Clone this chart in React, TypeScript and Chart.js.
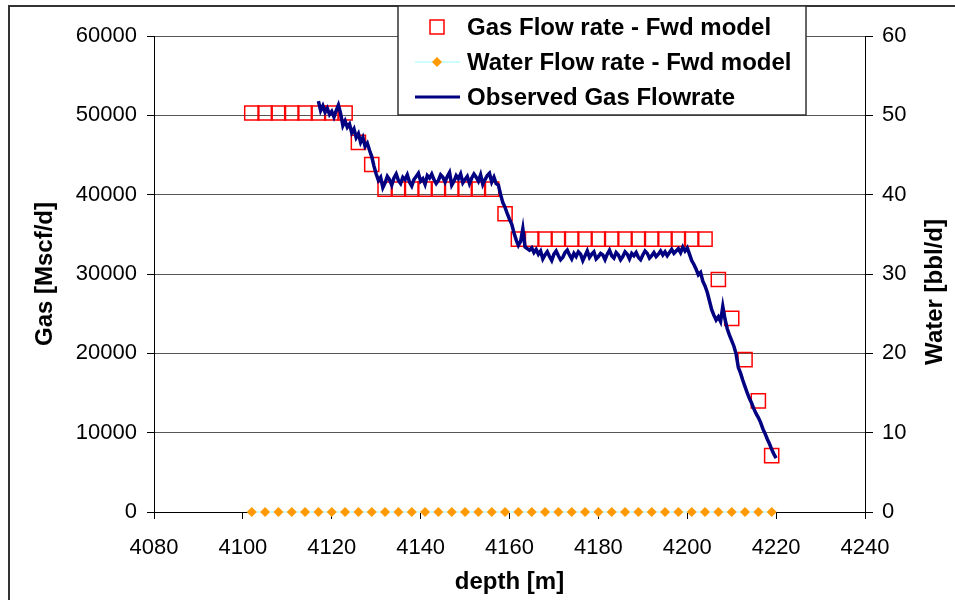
import React, { useEffect, useRef } from 'react';
import { Chart, registerables } from 'chart.js';

Chart.register(...registerables);

const FONT = "'Liberation Sans', Arial, Helvetica, sans-serif";

// ---- Data ----
const xTicks = [4080, 4100, 4120, 4140, 4160, 4180, 4200, 4220, 4240];
const xTitle = 'depth [m]';
const yTitle = 'Gas [Mscf/d]';
const y2Title = 'Water [bbl/d]';
const legendLabels = ['Gas Flow rate - Fwd model', 'Water Flow rate - Fwd model', 'Observed Gas Flowrate'];

const modelDepth = [
  4102, 4105, 4108, 4111, 4114, 4117, 4120, 4123, 4126, 4129,
  4132, 4135, 4138, 4141, 4144, 4147, 4150, 4153, 4156, 4159,
  4162, 4165, 4168, 4171, 4174, 4177, 4180, 4183, 4186, 4189,
  4192, 4195, 4198, 4201, 4204, 4207, 4210, 4213, 4216, 4219,
];

const gasModel = [
  50300, 50300, 50300, 50300, 50300, 50300, 50300, 50300, 46600, 43800,
  40700, 40700, 40700, 40700, 40700, 40700, 40700, 40700, 40700, 37600,
  34400, 34400, 34400, 34400, 34400, 34400, 34400, 34400, 34400, 34400,
  34400, 34400, 34400, 34400, 34400, 29300, 24400, 19200, 14000, 7100,
];

const waterModel = [
  0, 0, 0, 0, 0, 0, 0, 0, 0, 0,
  0, 0, 0, 0, 0, 0, 0, 0, 0, 0,
  0, 0, 0, 0, 0, 0, 0, 0, 0, 0,
  0, 0, 0, 0, 0, 0, 0, 0, 0, 0,
];

const obsDepth = [
  4117, 4117.5, 4118, 4118.5, 4119, 4119.5, 4120, 4120.5, 4121, 4121.5,
  4122, 4122.5, 4123, 4123.5, 4124, 4124.5, 4125, 4125.5, 4126, 4126.5,
  4127, 4127.5, 4128, 4128.5, 4129, 4129.5, 4130, 4130.5, 4131, 4131.5,
  4132, 4132.5, 4133, 4133.5, 4134, 4134.5, 4135, 4135.5, 4136, 4136.5,
  4137, 4137.5, 4138, 4138.5, 4139, 4139.5, 4140, 4140.5, 4141, 4141.5,
  4142, 4142.5, 4143, 4143.5, 4144, 4144.5, 4145, 4145.5, 4146, 4146.5,
  4147, 4147.5, 4148, 4148.5, 4149, 4149.5, 4150, 4150.5, 4151, 4151.5,
  4152, 4152.5, 4153, 4153.5, 4154, 4154.5, 4155, 4155.5, 4156, 4156.5,
  4157, 4157.5, 4158, 4158.5, 4159, 4159.5, 4160, 4160.5, 4161, 4161.5,
  4162, 4162.5, 4163, 4163.5, 4164, 4164.5, 4165, 4165.5, 4166, 4166.5,
  4167, 4167.5, 4168, 4168.5, 4169, 4169.5, 4170, 4170.5, 4171, 4171.5,
  4172, 4172.5, 4173, 4173.5, 4174, 4174.5, 4175, 4175.5, 4176, 4176.5,
  4177, 4177.5, 4178, 4178.5, 4179, 4179.5, 4180, 4180.5, 4181, 4181.5,
  4182, 4182.5, 4183, 4183.5, 4184, 4184.5, 4185, 4185.5, 4186, 4186.5,
  4187, 4187.5, 4188, 4188.5, 4189, 4189.5, 4190, 4190.5, 4191, 4191.5,
  4192, 4192.5, 4193, 4193.5, 4194, 4194.5, 4195, 4195.5, 4196, 4196.5,
  4197, 4197.5, 4198, 4198.5, 4199, 4199.5, 4200, 4200.5, 4201, 4201.5,
  4202, 4202.5, 4203, 4203.5, 4204, 4204.5, 4205, 4205.5, 4206, 4206.5,
  4207, 4207.5, 4208, 4208.5, 4209, 4209.5, 4210, 4210.5, 4211, 4211.5,
  4212, 4212.5, 4213, 4213.5, 4214, 4214.5, 4215, 4215.5, 4216, 4216.5,
  4217, 4217.5, 4218, 4218.5, 4219, 4219.5, 4220,
];

const obsGas = [
  51800, 50600, 51200, 50400, 50900, 50100, 50500, 49800, 50600, 51300,
  50200, 48700, 49300, 48500, 48900, 47800, 48300, 47200, 47700, 46600,
  47200, 46100, 46500, 45600, 44800, 43600, 42600, 41800, 42200, 40900,
  41500, 42300, 41900, 41200, 42100, 42600, 41800, 41400, 42200, 41900,
  42500, 41600, 41100, 41900, 42300, 42700, 41700, 42000, 41300, 42400,
  42100, 42600, 41900, 41400, 41800, 42500, 42200, 41600, 42300, 42800,
  41200, 41700, 42400, 42000, 42600, 41500, 41900, 42300, 41400, 42100,
  42600, 42200, 41700, 42500, 41300, 41900, 42400, 42700, 41600, 42200,
  41400, 41200, 40000, 39000, 38400, 37600, 36900, 36300, 35200, 34300,
  33600, 34100, 35700, 33400, 33200, 33000, 33300, 32700, 33100, 32500,
  32900, 31900, 32400, 32800, 32200, 31700, 32500, 32900, 32300, 31800,
  32100, 32700, 33000, 32400, 31900, 32600, 32200, 32800, 32500, 31700,
  32300, 32900, 32100, 32500, 32800, 31900, 32200, 32600, 32400, 31800,
  32500, 33000, 32300, 32000, 32700, 32400, 31800, 32200, 32800, 32500,
  31900, 32600, 32300, 32700, 32100, 31800, 32400, 32900, 32600, 32000,
  32300, 32700, 32200, 32500, 32900, 32400, 32800, 32300, 32700, 33100,
  32600, 32900, 33200, 32700, 33400, 32900, 33300, 32500, 31700, 31200,
  30600, 29900, 30200, 29100, 28500, 27700, 26600, 25500, 24800, 24200,
  24600, 24000, 25900, 24300, 23100, 22300, 21600, 20900, 19900, 18200,
  17500, 16600, 15800, 15000, 14300, 13700, 13000, 12400, 11900, 11300,
  10500, 9900, 9200, 8600, 7900, 7300, 6800,
];

// ---- Colours ----
const NAVY = '#000080';
const RED = '#ff0000';
const ORANGE = '#ff9900';
const CYAN = '#ccffff';

const decorPlugin = {
  id: 'decor',
  afterDraw(chart: any) {
    const ctx: CanvasRenderingContext2D = chart.ctx;
    const area = chart.chartArea;
    ctx.save();
    // outer frame
    ctx.strokeStyle = '#333';
    ctx.lineWidth = 2;
    ctx.beginPath();
    ctx.moveTo(9, 620);
    ctx.lineTo(9, 6);
    ctx.lineTo(970, 6);
    ctx.stroke();

    // axis titles
    ctx.fillStyle = '#000';
    ctx.font = `bold 24px ${FONT}`;
    ctx.textAlign = 'center';
    ctx.textBaseline = 'middle';
    ctx.fillText(xTitle, (area.left + area.right) / 2, 582);
    ctx.save();
    ctx.translate(45, (area.top + area.bottom) / 2);
    ctx.rotate(-Math.PI / 2);
    ctx.fillText(yTitle, 0, 0);
    ctx.restore();
    ctx.save();
    ctx.translate(935, 292);
    ctx.rotate(-Math.PI / 2);
    ctx.fillText(y2Title, 0, 0);
    ctx.restore();

    // legend box
    const lx = 398, ly = 6, lw = 408, lh = 109;
    ctx.fillStyle = '#fff';
    ctx.fillRect(lx, ly, lw, lh);
    ctx.strokeStyle = '#333';
    ctx.lineWidth = 1.5;
    ctx.strokeRect(lx, ly, lw, lh);

    const rows = [27, 62, 97];
    // entry 1: red hollow square
    ctx.strokeStyle = RED;
    ctx.lineWidth = 1.5;
    ctx.strokeRect(430, rows[0] - 7, 14, 14);
    // entry 2: cyan line + orange diamond
    ctx.strokeStyle = CYAN;
    ctx.lineWidth = 2;
    ctx.beginPath();
    ctx.moveTo(415, rows[1]);
    ctx.lineTo(460, rows[1]);
    ctx.stroke();
    ctx.fillStyle = ORANGE;
    ctx.beginPath();
    ctx.moveTo(437, rows[1] - 5);
    ctx.lineTo(442, rows[1]);
    ctx.lineTo(437, rows[1] + 5);
    ctx.lineTo(432, rows[1]);
    ctx.closePath();
    ctx.fill();
    // entry 3: navy line
    ctx.strokeStyle = NAVY;
    ctx.lineWidth = 3;
    ctx.beginPath();
    ctx.moveTo(415, rows[2]);
    ctx.lineTo(460, rows[2]);
    ctx.stroke();

    ctx.fillStyle = '#000';
    ctx.font = `bold 24px ${FONT}`;
    ctx.textAlign = 'left';
    ctx.textBaseline = 'middle';
    legendLabels.forEach((t, i) => ctx.fillText(t, 467, rows[i] + 1));
    ctx.restore();
  },
};

export default function App() {
  const ref = useRef<HTMLCanvasElement>(null);

  useEffect(() => {
    const canvas = ref.current;
    if (!canvas) return;
    Chart.defaults.font.family = FONT;
    const tickFont = { family: FONT, size: 22 };
    const plain = (v: any) => String(v);

    const chart = new Chart(canvas, {
      type: 'line',
      data: {
        datasets: [
          {
            label: legendLabels[2],
            data: obsDepth.map((d, i) => ({ x: d, y: obsGas[i] })),
            borderColor: NAVY,
            backgroundColor: NAVY,
            borderWidth: 3.5,
            pointRadius: 0,
            tension: 0,
            yAxisID: 'y',
            order: 0,
          },
          {
            label: legendLabels[0],
            data: modelDepth.map((d, i) => ({ x: d, y: gasModel[i] })),
            showLine: false,
            pointStyle: 'rect',
            pointRadius: 10,
            pointBorderWidth: 1.5,
            pointBorderColor: RED,
            pointBackgroundColor: 'rgba(0,0,0,0)',
            borderColor: RED,
            backgroundColor: 'rgba(0,0,0,0)',
            yAxisID: 'y',
            order: 1,
          },
          {
            label: legendLabels[1],
            data: modelDepth.map((d, i) => ({ x: d, y: waterModel[i] })),
            borderColor: CYAN,
            borderWidth: 2,
            pointStyle: 'rectRot',
            pointRadius: 5,
            pointBorderWidth: 0,
            pointBackgroundColor: ORANGE,
            pointBorderColor: ORANGE,
            yAxisID: 'y2',
            clip: false,
            order: 2,
          },
        ] as any,
      },
      options: {
        responsive: false,
        maintainAspectRatio: false,
        devicePixelRatio: 1,
        animation: false,
        layout: { padding: { top: 36, left: 0, right: 0, bottom: 0 } },
        plugins: {
          legend: { display: false },
          tooltip: { enabled: false },
          title: { display: false },
        },
        scales: {
          x: {
            type: 'linear',
            position: 'bottom',
            min: xTicks[0],
            max: xTicks[xTicks.length - 1],
            afterBuildTicks: (s: any) => {
              s.ticks = xTicks.map((v) => ({ value: v }));
            },
            ticks: { font: tickFont, color: '#000', padding: 16, maxRotation: 0, autoSkip: false, callback: plain },
            grid: { drawOnChartArea: false, drawTicks: true, tickLength: 7, color: '#000' },
            border: { display: true, color: '#000', width: 1 },
            afterFit: (s: any) => {
              s.height = 600 - 512;
            },
          },
          y: {
            position: 'left',
            min: 0,
            max: 60000,
            ticks: { stepSize: 10000, font: tickFont, color: '#000', padding: 10, callback: plain },
            grid: { color: '#555', tickColor: '#000', tickLength: 7 },
            border: { display: true, color: '#000', width: 1 },
            afterFit: (s: any) => {
              s.width = 154;
            },
          },
          y2: {
            position: 'right',
            min: 0,
            max: 60,
            ticks: { stepSize: 10, font: tickFont, color: '#000', padding: 9, callback: plain },
            grid: { drawOnChartArea: false, tickLength: 8, color: '#000' },
            border: { display: true, color: '#000', width: 1 },
            afterFit: (s: any) => {
              s.width = 955 - 865;
            },
          },
        },
      } as any,
      plugins: [decorPlugin],
    });
    return () => chart.destroy();
  }, []);

  return (
    <div style={{ position: 'absolute', left: 0, top: 0, width: 955, height: 600, background: '#fff' }}>
      <canvas ref={ref} width={955} height={600} style={{ display: 'block', width: 955, height: 600 }} />
    </div>
  );
}
